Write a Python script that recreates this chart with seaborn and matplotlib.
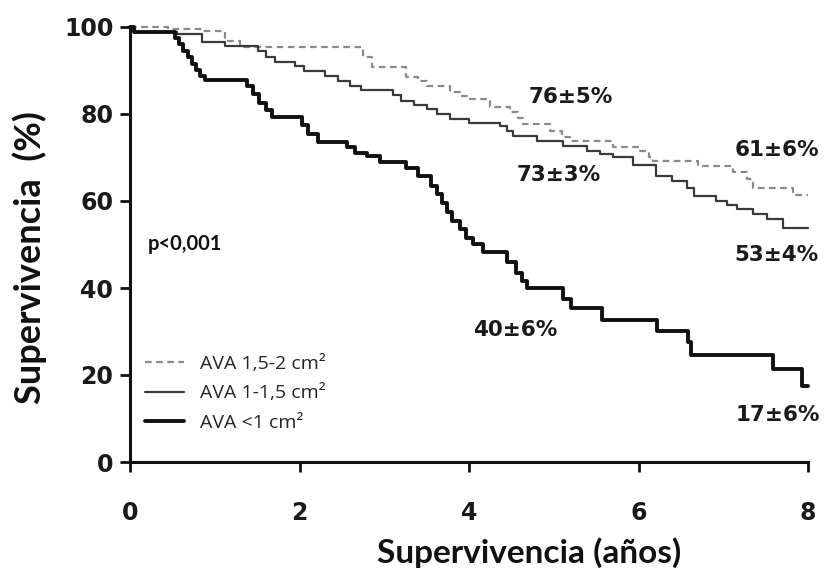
import pandas as pd
import matplotlib
matplotlib.use("Agg")
import matplotlib.pyplot as plt
import seaborn as sns

# Curvas de supervivencia (años, %)
t_15_2 = [0, 0.45, 0.85, 1.12, 1.3, 2.75, 2.85, 3.26, 3.4, 3.5, 3.77, 3.89, 4.0,
          4.25, 4.48, 4.58, 4.64, 4.96, 5.1, 5.19, 5.7, 6.02, 6.12, 6.17, 6.7,
          7.12, 7.28, 7.35, 7.82, 8.0]
s_15_2 = [100, 99.5, 99, 96.8, 95.4, 93, 90.7, 88.5, 87.5, 86.4, 85, 84.1, 83.4,
          81.5, 80.4, 79, 77.6, 76, 74.8, 73.7, 72.4, 71.4, 70.2, 69.1, 68,
          66.6, 65, 63.1, 61.3, 61.3]

t_1_15 = [0, 0.05, 0.55, 0.85, 1.12, 1.51, 1.6, 1.71, 1.95, 2.05, 2.3, 2.45, 2.6,
          2.73, 3.1, 3.2, 3.35, 3.5, 3.62, 3.78, 4.0, 4.37, 4.45, 4.52, 4.8,
          5.11, 5.39, 5.55, 5.7, 5.94, 6.21, 6.4, 6.57, 6.65, 6.92, 7.05, 7.16,
          7.35, 7.52, 7.71, 8.0]
s_1_15 = [100, 98.8, 98.4, 96.5, 95.6, 94.5, 93.2, 92, 91, 89.9, 88.8, 87.6, 86.5,
          85.5, 84.3, 83, 82, 81.1, 80, 78.8, 78, 77.2, 76, 75, 73.8,
          72.6, 71.4, 70.7, 70, 68.2, 65.7, 64.5, 63.1, 61.1, 60, 59, 58.1,
          57, 55.8, 53.9, 53.9]

t_lt1 = [0, 0.05, 0.53, 0.58, 0.63, 0.68, 0.73, 0.78, 0.83, 0.88, 1.38, 1.45,
         1.52, 1.6, 1.68, 2.03, 2.1, 2.22, 2.56, 2.65, 2.8, 2.95, 3.26, 3.4,
         3.55, 3.62, 3.68, 3.74, 3.8, 3.89, 3.97, 4.05, 4.17, 4.45, 4.55, 4.62,
         4.68, 5.11, 5.2, 5.57, 6.22, 6.58, 6.62, 7.59, 7.93, 8.0]
s_lt1 = [100, 98.8, 97.5, 96, 94.5, 93, 91.5, 90, 88.8, 87.8, 86.5, 84.5,
         82.5, 81, 79.4, 77.5, 75.5, 73.5, 72.3, 71, 70.3, 68.9, 67.5, 65.7,
         63.5, 61.5, 59.5, 57.5, 55.5, 53.5, 51.5, 50, 48.2, 45.9, 43.5, 41.5,
         40.1, 37.5, 35.3, 32.7, 30.2, 27.5, 24.7, 21.4, 17.5, 17.5]

etiquetas = ["AVA 1,5-2 cm²", "AVA 1-1,5 cm²", "AVA <1 cm²"]

anot_txt = ["76±5%", "73±3%", "61±6%", "53±4%", "40±6%", "17±6%"]
anot_x = [5.2, 5.06, 7.63, 7.63, 4.54, 7.64]
anot_y = [84.0, 66.0, 71.8, 47.5, 30.4, 10.8]

df_a = pd.DataFrame({"t": t_15_2, "s": s_15_2})
df_b = pd.DataFrame({"t": t_1_15, "s": s_1_15})
df_c = pd.DataFrame({"t": t_lt1, "s": s_lt1})

sns.set_theme(style="ticks")
plt.rcParams["font.family"] = ["DejaVu Sans"]

fig = plt.figure(figsize=(8.24, 5.72), dpi=100)
ax = fig.add_axes([130 / 824, 1 - 462 / 572, 678 / 824, 435 / 572])

sns.lineplot(data=df_a, x="t", y="s", ax=ax, estimator=None, sort=False,
             drawstyle="steps-post", color="#8a8a8a", linewidth=1.6,
             linestyle=(0, (3, 2)), label=etiquetas[0], clip_on=False)
sns.lineplot(data=df_b, x="t", y="s", ax=ax, estimator=None, sort=False,
             drawstyle="steps-post", color="#3a3a3a", linewidth=1.6,
             label=etiquetas[1], clip_on=False)
sns.lineplot(data=df_c, x="t", y="s", ax=ax, estimator=None, sort=False,
             drawstyle="steps-post", color="#111111", linewidth=2.8,
             label=etiquetas[2], clip_on=False)

ax.set_xlim(0, 8)
ax.set_ylim(0, 100)
ax.set_xticks([0, 2, 4, 6, 8])
ax.set_yticks([0, 20, 40, 60, 80, 100])
sns.despine(ax=ax)
for sp in ["left", "bottom"]:
    ax.spines[sp].set_linewidth(2.2)
    ax.spines[sp].set_color("#111111")
ax.tick_params(axis="both", length=7, width=2, color="#111111")
ax.tick_params(axis="y", pad=5)
ax.tick_params(axis="x", pad=21)
for lab in ax.get_xticklabels() + ax.get_yticklabels():
    lab.set_family(["DejaVu Sans"])
    lab.set_fontsize(17)
    lab.set_fontweight("bold")
    lab.set_color("#1a1a1a")

ax.set_xlabel("Supervivencia (años)", fontsize=24, fontweight="bold",
              family=["Lato", "DejaVu Sans"], color="#111111")
ax.set_ylabel("Supervivencia  (%)", fontsize=26, fontweight="bold",
              family=["Lato", "DejaVu Sans"], color="#111111")
ax.xaxis.set_label_coords(0.589, -0.209)
ax.yaxis.set_label_coords(-0.148, 0.471)
ax.xaxis.label.set_va("center")
ax.yaxis.label.set_va("center")

for txt, x, y in zip(anot_txt, anot_x, anot_y):
    ax.text(x, y, txt, ha="center", va="center", fontsize=15.5,
            fontweight="bold", family=["DejaVu Sans"], color="#1a1a1a")

ax.text(0.21, 50, "p<0,001", ha="left", va="center", fontsize=14.5,
        fontweight="bold", family=["Lato", "DejaVu Sans"], color="#111111")

leg = ax.legend(loc="lower left", bbox_to_anchor=(0.022, 0.069), frameon=False,
                prop={"family": ["Open Sans", "DejaVu Sans"], "size": 14},
                handlelength=2.0, handletextpad=0.85, labelspacing=0.6,
                borderaxespad=0, borderpad=0)

fig.savefig("out.png", dpi=100)
